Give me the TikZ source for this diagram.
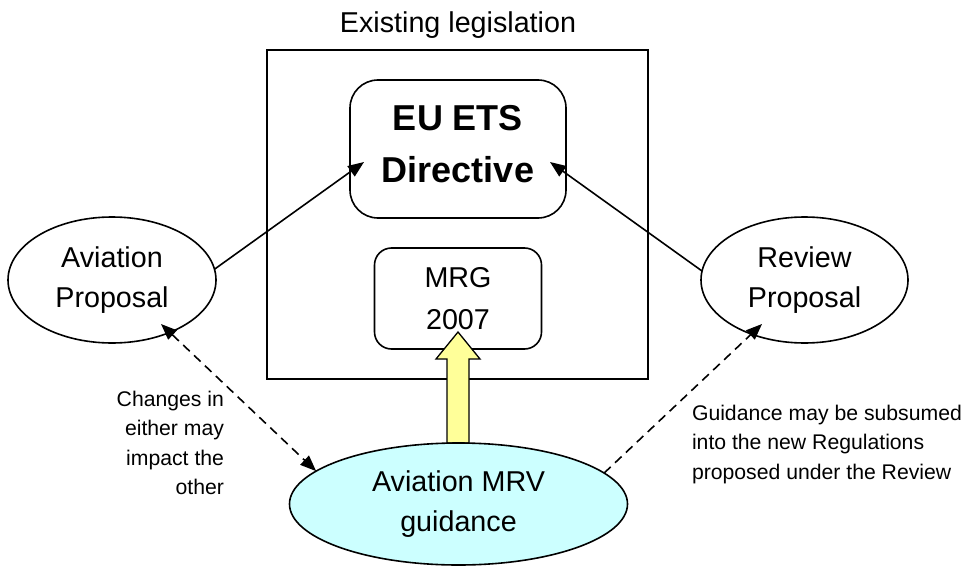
\documentclass[tikz,border=0pt]{standalone}
\usepackage{fontspec}
\setmainfont{Liberation Sans}
\usetikzlibrary{arrows.meta,shapes.geometric,calc}
\definecolor{mrvfill}{HTML}{CCFFFF}
\definecolor{arrowfill}{HTML}{FFFF99}
\begin{document}
\begin{tikzpicture}[x=1pt,y=-1pt,
  every node/.style={inner sep=0pt,outer sep=0pt},
  conn/.style={line width=1.6pt},
  bigtxt/.style={font=\fontsize{28.7}{39.5}\selectfont,align=center},
  smalltxt/.style={font=\fontsize{21.2}{29.5}\selectfont},
  oval/.style={ellipse,draw,line width=1.6pt,bigtxt},
  headend/.style={-{Triangle[length=16pt,width=12.5pt]}},
  headboth/.style={{Triangle[length=16pt,width=12.5pt]}-{Triangle[length=16pt,width=12.5pt]}},
  dashline/.style={dash pattern=on 9pt off 6pt}
]
\useasboundingbox (0,0) rectangle (968,567);
% outer frame
\node[draw,line width=1.6pt,minimum width=381pt,minimum height=329pt] (frame) at (457.5,214.5) {};
\node[font=\fontsize{28.7}{34}\selectfont,anchor=base] (title) at (458,33) {Existing legislation};
% EU ETS directive
\node[draw,line width=1.6pt,rounded corners=28pt,minimum width=216pt,minimum height=138pt,
      font=\bfseries\fontsize{36}{52}\selectfont,align=center,text depth=11pt] (ets) at (458,149) {EU ETS\\Directive};
% MRG 2007
\node[draw,line width=1.6pt,rounded corners=17pt,minimum width=167pt,minimum height=101pt,bigtxt,text depth=-7pt] (mrg) at (458,298.5) {MRG\\[2.5pt]2007};
% ellipses
\node[oval,minimum width=208pt,minimum height=126pt] (ap) at (112,280) {Aviation\\Proposal};
\node[oval,minimum width=207pt,minimum height=126pt] (rp) at (804.5,280) {Review\\Proposal};
% yellow arrow
\coordinate (ybase) at (458,443);
\filldraw[line width=1.3pt,fill=arrowfill,line join=miter]
  ($(ybase)+(-11,0)$) -- ++(0,-84) -- ++(-11,0) -- (458,332) -- (480,359) -- ++(-11,0) -- ($(ybase)+(11,0)$) -- cycle;
\node[oval,fill=mrvfill,minimum width=338pt,minimum height=122pt] (mrv) at (458.5,504) {Aviation MRV\\guidance};
% connectors
\coordinate (etsL) at (364,162);
\coordinate (etsR) at (550,162);
\coordinate (apT) at (161,324);
\coordinate (rpT) at (762,324);
\draw[conn,headend] (ap.6) -- (etsL);
\draw[conn,headend] (rp.175) -- (etsR);
\draw[conn,dashline,headboth] (apT) -- (mrv.167);
\draw[conn,dashline,headend] (mrv.12) -- (rpT);
% labels
\node[smalltxt,align=right,anchor=north east] (lchg) at (224,391) {Changes in\\either may\\impact the\\other};
\node[smalltxt,align=left,anchor=north west] (lgd) at (692,405) {Guidance may be subsumed\\into the new Regulations\\proposed under the Review};
\end{tikzpicture}
\end{document}
